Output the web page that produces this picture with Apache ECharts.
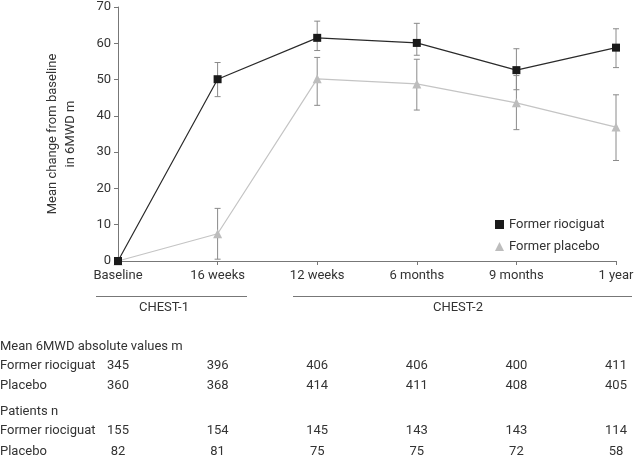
<!DOCTYPE html>
<html>
<head>
<meta charset="utf-8">
<script src="https://cdn.jsdelivr.net/npm/echarts@6/dist/echarts.min.js"></script>
<style>
html,body{margin:0;padding:0;background:#fff;}
#main{width:640px;height:460px;}
</style>
</head>
<body>
<div id="main"></div>
<script>
// ---- data ----
var categories = ['Baseline', '16 weeks', '12 weeks', '6 months', '9 months', '1 year'];
var riociguatMean = [0, 50.1, 61.5, 60.1, 52.6, 58.8];
var riociguatLow  = [null, 45.3, 58.0, 56.7, 47.2, 53.3];
var riociguatHigh = [null, 54.7, 66.1, 65.5, 58.5, 64.0];
var placeboMean = [0, 7.5, 50.2, 48.8, 43.6, 36.9];
var placeboLow  = [null, 0.5, 42.9, 41.6, 36.2, 27.7];
var placeboHigh = [null, 14.5, 56.1, 55.6, 51.1, 45.8];
var yTicks = [0, 10, 20, 30, 40, 50, 60, 70];

var tableTitle1 = 'Mean 6MWD absolute values m';
var absRiociguat = [345, 396, 406, 406, 400, 411];
var absPlacebo   = [360, 368, 414, 411, 408, 405];
var tableTitle2 = 'Patients n';
var nRiociguat = [155, 154, 145, 143, 143, 114];
var nPlacebo   = [82, 81, 75, 75, 72, 58];
var rowLabels = ['Former riociguat', 'Placebo'];
var studyLabels = ['CHEST-1', 'CHEST-2'];
var seriesNames = ['Former riociguat', 'Former placebo'];

var FONT = 'Roboto, "Noto Sans", sans-serif';
var TXT = '#333';

function errData(lo, hi) {
  var out = [];
  for (var i = 0; i < lo.length; i++) {
    if (lo[i] != null) out.push([i, lo[i], hi[i]]);
  }
  return out;
}

function errRender(params, api) {
  var x = api.value(0);
  var lo = api.coord([x, api.value(1)]);
  var hi = api.coord([x, api.value(2)]);
  var w = 3;
  var st = {stroke: '#8a8a8a', lineWidth: 1};
  return {
    type: 'group',
    children: [
      {type: 'line', shape: {x1: lo[0], y1: lo[1], x2: hi[0], y2: hi[1]}, style: st},
      {type: 'line', shape: {x1: lo[0] - w, y1: lo[1], x2: lo[0] + w, y2: lo[1]}, style: st},
      {type: 'line', shape: {x1: hi[0] - w, y1: hi[1], x2: hi[0] + w, y2: hi[1]}, style: st}
    ]
  };
}

var chart = echarts.init(document.getElementById('main'), null, {renderer: 'canvas'});
chart.setOption({
  animation: false,
  textStyle: {fontFamily: FONT},
  grid: {left: 118, right: 24, top: 7, bottom: 199, containLabel: false},
  legend: {
    orient: 'vertical', left: 490, top: 213, itemWidth: 9, itemHeight: 9, itemGap: 9,
    textStyle: {fontSize: 13, color: TXT, fontFamily: FONT},
    data: [
      {name: seriesNames[0], icon: 'rect', itemStyle: {color: '#1a1a1a'}},
      {name: seriesNames[1], icon: 'triangle', itemStyle: {color: '#bdbdbd'}}
    ]
  },
  xAxis: {
    type: 'category', data: categories, boundaryGap: false,
    axisLine: {lineStyle: {color: '#777', width: 1}},
    axisTick: {show: true, length: 4, alignWithLabel: true, lineStyle: {color: '#777'}},
    axisLabel: {fontSize: 13, color: TXT, margin: 8, fontFamily: FONT},
    splitLine: {show: false}
  },
  yAxis: {
    type: 'value', min: 0, max: 70, interval: 10,
    name: 'Mean change from baseline\nin 6MWD m',
    nameLocation: 'middle', nameGap: 38, nameRotate: 90,
    nameTextStyle: {fontSize: 13, color: TXT, lineHeight: 18, fontFamily: FONT},
    axisLine: {show: true, lineStyle: {color: '#777', width: 1}},
    axisTick: {show: true, length: 4, lineStyle: {color: '#777'}},
    axisLabel: {fontSize: 13, color: TXT, margin: 7, fontFamily: FONT,
      formatter: function (v) { return yTicks.indexOf(v) >= 0 ? String(v) : ''; }},
    splitLine: {show: false}
  },
  series: [
    {
      type: 'custom', name: 'errR', renderItem: errRender, data: errData(riociguatLow, riociguatHigh),
      encode: {x: 0, y: [1, 2]}, z: 1, silent: true
    },
    {
      type: 'custom', name: 'errP', renderItem: errRender, data: errData(placeboLow, placeboHigh),
      encode: {x: 0, y: [1, 2]}, z: 1, silent: true
    },
    {
      type: 'line', name: seriesNames[1], data: placeboMean, symbol: 'triangle', symbolSize: 9,
      lineStyle: {color: '#c4c4c4', width: 1.2}, itemStyle: {color: '#bdbdbd'}, z: 3
    },
    {
      type: 'line', name: seriesNames[0], data: riociguatMean, symbol: 'rect', symbolSize: 8,
      lineStyle: {color: '#2a2a2a', width: 1.2}, itemStyle: {color: '#1a1a1a'}, z: 4
    }
  ]
});

// ---- table + study brackets below the chart, x from the category axis ----
var xs = categories.map(function (c, i) { return chart.convertToPixel({xAxisIndex: 0}, i); });
var g = [];
function txt(x, y, s, align) {
  g.push({type: 'text', x: x, y: y, style: {text: String(s), fontSize: 13, fill: TXT,
    fontFamily: FONT, align: align || 'center', verticalAlign: 'middle'}});
}
// brackets
g.push({type: 'line', shape: {x1: 96, y1: 296.5, x2: 247, y2: 296.5}, style: {stroke: '#777', lineWidth: 1}});
g.push({type: 'line', shape: {x1: 293, y1: 296.5, x2: 632, y2: 296.5}, style: {stroke: '#777', lineWidth: 1}});
txt(164, 308, studyLabels[0]);
txt(458, 308, studyLabels[1]);

var rowsY = [347, 366, 386, 412, 431, 452];
txt(0, rowsY[0], tableTitle1, 'left');
txt(0, rowsY[1], rowLabels[0], 'left');
txt(0, rowsY[2], rowLabels[1], 'left');
txt(0, rowsY[3], tableTitle2, 'left');
txt(0, rowsY[4], rowLabels[0], 'left');
txt(0, rowsY[5], rowLabels[1], 'left');
for (var i = 0; i < categories.length; i++) {
  txt(xs[i], rowsY[1], absRiociguat[i]);
  txt(xs[i], rowsY[2], absPlacebo[i]);
  txt(xs[i], rowsY[4], nRiociguat[i]);
  txt(xs[i], rowsY[5], nPlacebo[i]);
}
chart.setOption({graphic: g});
</script>
</body>
</html>
